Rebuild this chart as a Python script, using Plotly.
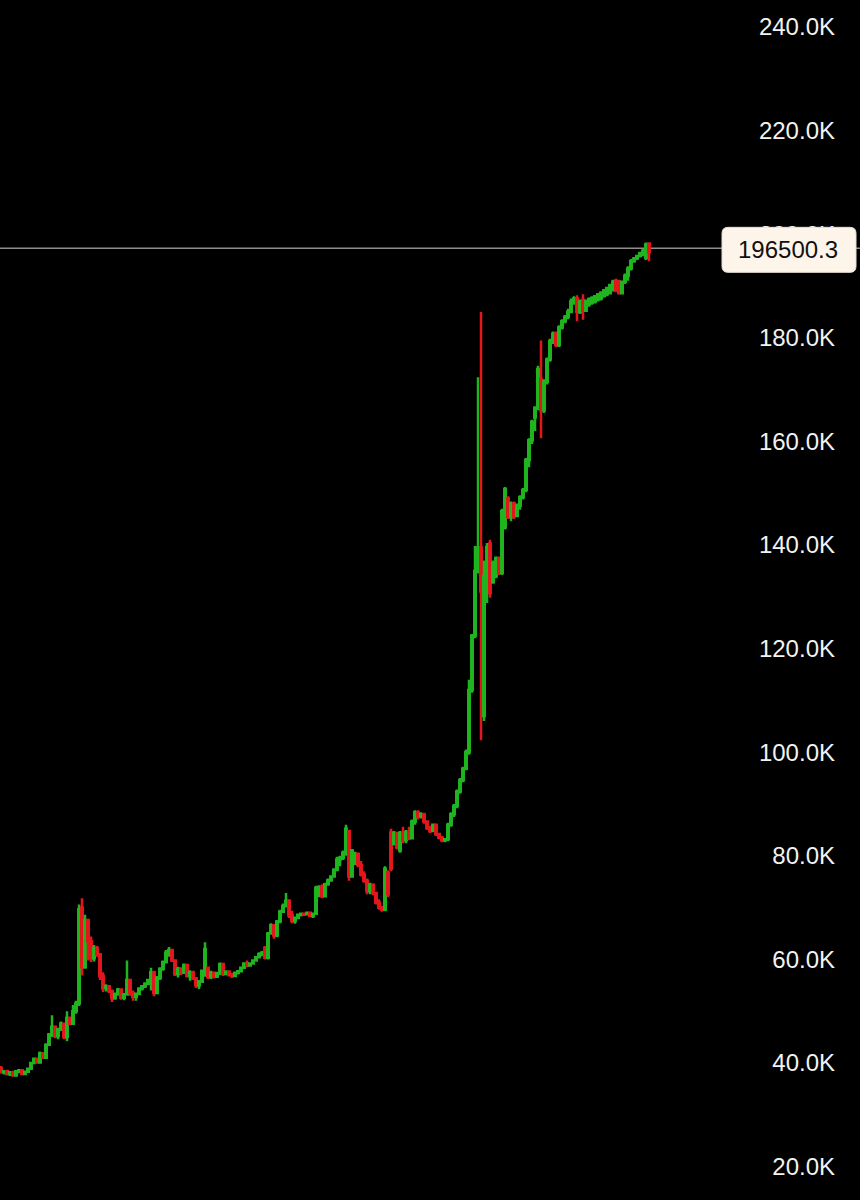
import plotly.graph_objects as go

# ---- candle data (price in thousands) ----
OPEN = [
    39.0, 38.2, 38.4, 37.9, 38.2, 37.6, 38.4, 38.6, 37.9, 38.3,
    38.9, 40.0, 40.8, 40.1, 41.9, 41.0, 43.5, 45.5, 47.0, 45.2,
    46.5, 47.6, 45.0, 48.7, 47.6, 50.0, 51.5, 70.0, 58.5, 67.6,
    63.5, 60.2, 62.2, 61.0, 56.8, 54.5, 54.8, 53.9, 52.5, 53.3,
    54.2, 52.6, 53.2, 56.0, 53.5, 52.8, 53.3, 54.4, 54.8, 55.3,
    55.3, 57.5, 53.5, 56.4, 58.2, 59.5, 60.8, 61.8, 59.8, 57.2,
    58.2, 57.4, 58.9, 56.8, 57.5, 56.3, 55.0, 55.7, 56.9, 58.4,
    56.6, 57.4, 56.7, 57.3, 59.1, 57.2, 57.6, 57.0, 56.8, 57.4,
    57.7, 58.4, 59.2, 58.8, 59.2, 59.8, 60.4, 61.0, 62.2, 60.3,
    65.0, 66.6, 64.6, 67.3, 69.2, 70.3, 71.3, 68.5, 67.4, 68.0,
    68.6, 68.8, 68.7, 69.0, 68.4, 68.8, 72.4, 74.0, 72.2, 74.5,
    75.3, 76.0, 77.3, 79.3, 79.6, 80.6, 84.8, 76.0, 78.5, 80.4,
    78.2, 76.4, 75.2, 73.2, 74.4, 72.8, 71.0, 70.0, 69.6, 76.8,
    84.5, 82.3, 84.4, 81.0, 84.4, 83.0, 84.6, 83.4, 86.6, 88.4,
    87.6, 88.0, 86.6, 85.4, 84.8, 86.0, 84.2, 83.5, 83.0, 83.2,
    86.0, 88.0, 89.6, 92.4, 94.6, 96.8, 100.0, 112.0, 122.5, 135.0,
    139.5, 107.0, 134.0, 140.3, 132.8, 134.0, 137.5, 134.6, 143.4, 149.0,
    145.4, 148.0, 145.6, 147.6, 149.2, 150.6, 156.4, 160.2, 164.6, 166.5,
    172.0, 166.0, 171.5, 175.8, 179.4, 180.8, 178.6, 182.0, 183.2, 184.0,
    185.0, 187.0, 187.6, 185.0, 187.3, 185.2, 186.5, 186.8, 187.0, 187.4,
    187.6, 188.0, 188.4, 188.6, 189.2, 191.0, 190.8, 188.6, 190.8, 192.0,
    193.4, 194.8, 195.3, 195.8, 196.0, 195.4, 198.2,
]
HIGH = [
    39.4, 38.6, 38.7, 38.4, 38.5, 38.6, 38.8, 38.8, 38.5, 39.0,
    40.2, 41.0, 41.0, 42.2, 42.0, 43.8, 45.8, 49.2, 47.2, 46.8,
    48.0, 47.8, 50.0, 49.0, 51.2, 52.0, 70.6, 71.8, 68.6, 67.8,
    64.4, 62.8, 62.6, 61.2, 57.5, 55.2, 55.0, 54.2, 53.6, 54.5,
    54.4, 53.5, 59.8, 56.2, 54.0, 53.6, 54.6, 55.0, 55.6, 56.2,
    58.4, 57.8, 56.8, 58.5, 59.8, 61.8, 62.4, 62.0, 60.0, 58.6,
    58.5, 59.2, 59.0, 57.9, 57.8, 56.6, 56.0, 58.0, 63.3, 58.6,
    57.8, 57.6, 57.6, 59.4, 59.2, 57.9, 57.9, 57.4, 57.6, 57.9,
    58.6, 59.4, 59.8, 59.4, 60.0, 60.6, 61.4, 61.6, 62.6, 65.3,
    67.0, 66.8, 67.6, 69.6, 70.8, 72.8, 71.6, 69.4, 68.3, 68.8,
    69.0, 69.0, 69.2, 69.2, 69.0, 74.2, 74.3, 74.5, 74.8, 75.6,
    76.2, 77.6, 79.8, 80.0, 81.0, 86.0, 85.0, 81.3, 80.8, 80.6,
    79.0, 77.0, 75.6, 74.8, 74.6, 73.0, 71.6, 70.3, 78.0, 77.2,
    85.2, 84.8, 84.6, 84.8, 85.6, 85.0, 85.6, 87.0, 88.8, 88.8,
    88.4, 88.3, 86.8, 85.8, 86.2, 86.2, 84.4, 83.8, 83.4, 86.4,
    88.4, 90.0, 92.8, 95.0, 97.2, 100.5, 114.0, 122.8, 139.8, 172.4,
    185.0, 137.0, 140.4, 141.0, 137.0, 137.8, 137.8, 147.0, 151.2, 149.4,
    148.4, 148.4, 148.0, 149.6, 151.0, 156.8, 160.6, 164.2, 166.8, 174.6,
    179.5, 172.0, 176.2, 179.8, 181.2, 181.2, 182.4, 183.6, 184.4, 185.6,
    187.6, 188.0, 188.2, 187.4, 188.4, 187.4, 187.8, 188.0, 188.2, 188.6,
    189.0, 189.4, 189.8, 190.4, 191.2, 191.4, 191.2, 191.0, 192.4, 193.8,
    195.2, 195.6, 196.0, 196.6, 197.2, 198.4, 198.4,
]
LOW = [
    38.0, 37.8, 37.6, 37.5, 37.4, 37.5, 38.0, 37.7, 37.8, 38.2,
    38.8, 39.8, 39.9, 40.0, 40.8, 40.9, 43.3, 45.0, 44.8, 44.6,
    46.2, 44.6, 44.2, 47.3, 47.4, 49.5, 51.0, 56.9, 58.2, 59.8,
    59.5, 59.6, 60.5, 56.0, 53.7, 53.8, 53.5, 51.8, 52.2, 53.0,
    52.2, 52.1, 53.0, 53.0, 52.0, 52.0, 53.1, 54.0, 54.5, 55.0,
    54.0, 52.9, 53.3, 56.0, 57.8, 59.2, 60.5, 59.5, 56.8, 56.5,
    57.0, 57.2, 56.5, 55.9, 56.0, 54.5, 54.3, 55.5, 56.8, 56.2,
    56.2, 56.3, 56.4, 57.0, 56.8, 57.0, 56.7, 56.4, 56.6, 57.1,
    57.5, 58.2, 58.5, 58.6, 59.0, 59.6, 60.2, 60.6, 60.0, 60.0,
    64.8, 64.0, 64.3, 67.0, 69.0, 70.0, 68.0, 67.0, 66.9, 67.8,
    68.3, 68.4, 68.5, 68.2, 68.0, 68.6, 72.0, 71.8, 72.0, 74.2,
    75.0, 75.8, 77.0, 78.0, 79.2, 80.0, 75.2, 75.8, 78.2, 77.8,
    76.0, 74.8, 72.6, 72.6, 72.4, 70.6, 69.6, 69.2, 69.3, 72.0,
    77.0, 82.0, 81.2, 80.6, 82.4, 82.4, 83.0, 83.2, 86.0, 87.0,
    87.2, 86.2, 85.0, 84.4, 84.6, 83.8, 83.2, 82.6, 82.6, 82.8,
    85.6, 87.5, 89.2, 92.0, 94.2, 96.5, 99.5, 111.5, 122.0, 134.5,
    102.3, 106.0, 128.8, 129.8, 132.5, 133.6, 134.2, 134.2, 143.0, 145.0,
    144.6, 145.0, 145.4, 146.8, 148.8, 150.2, 155.0, 159.5, 162.0, 166.0,
    160.6, 165.5, 171.0, 175.4, 178.8, 178.2, 178.2, 181.6, 182.8, 183.6,
    184.8, 186.4, 183.2, 184.6, 183.5, 185.0, 186.0, 186.4, 186.6, 187.0,
    187.2, 187.8, 188.0, 188.4, 189.0, 188.8, 188.4, 188.4, 190.4, 191.0,
    193.0, 194.5, 195.0, 195.5, 195.8, 195.0, 194.8,
]
CLOSE = [
    38.2, 38.4, 37.9, 38.2, 37.6, 38.4, 38.6, 37.9, 38.3, 38.9,
    40.0, 40.8, 40.1, 41.9, 41.0, 43.5, 45.5, 47.0, 45.2, 46.5,
    47.6, 45.0, 48.7, 47.6, 50.0, 51.5, 69.7, 58.5, 67.6, 63.5,
    60.2, 62.2, 61.0, 56.8, 54.5, 54.8, 53.9, 52.5, 53.3, 54.2,
    52.6, 53.2, 56.0, 53.5, 52.8, 53.3, 54.4, 54.8, 55.3, 56.0,
    57.5, 53.5, 56.4, 58.2, 59.5, 61.3, 61.8, 59.8, 57.2, 58.2,
    57.4, 58.9, 56.8, 57.5, 56.3, 55.0, 55.7, 57.8, 62.0, 56.6,
    57.4, 56.7, 57.3, 59.1, 57.2, 57.6, 57.0, 56.8, 57.4, 57.7,
    58.4, 59.2, 58.8, 59.2, 59.8, 60.4, 61.0, 61.3, 60.3, 65.0,
    66.6, 64.6, 67.3, 69.2, 70.3, 71.3, 68.5, 67.4, 68.0, 68.6,
    68.8, 68.7, 69.0, 68.4, 68.8, 73.8, 74.0, 72.2, 74.5, 75.3,
    76.0, 77.3, 79.3, 79.6, 80.6, 85.2, 76.0, 81.0, 80.4, 78.2,
    76.4, 75.2, 73.2, 74.4, 72.8, 71.0, 70.0, 69.6, 77.5, 72.6,
    77.5, 84.4, 81.6, 84.4, 83.0, 84.6, 83.4, 86.6, 88.4, 87.6,
    88.0, 86.6, 85.4, 84.8, 86.0, 84.2, 83.5, 83.0, 83.2, 86.0,
    88.0, 89.6, 92.4, 94.6, 96.8, 100.0, 112.0, 122.5, 135.0, 139.5,
    131.0, 134.0, 139.6, 130.7, 136.5, 137.5, 134.6, 146.5, 150.8, 145.4,
    148.0, 145.6, 147.6, 149.2, 150.6, 156.4, 160.2, 163.8, 166.5, 174.0,
    166.0, 171.5, 175.8, 179.4, 180.8, 178.6, 182.0, 183.2, 184.0, 185.0,
    187.0, 187.6, 185.0, 187.0, 185.2, 187.0, 187.5, 187.7, 188.0, 188.4,
    188.7, 189.2, 189.6, 190.2, 190.8, 189.2, 188.6, 190.8, 192.0, 193.4,
    194.8, 195.3, 195.8, 196.3, 196.8, 198.0, 196.5003,
]
LAST_PRICE = 196500.3
TICK_VALUES_K = [20, 40, 60, 80, 100, 120, 140, 160, 180, 200, 220, 240]
TICK_LABELS = ["20.0K", "40.0K", "60.0K", "80.0K", "100.0K", "120.0K",
               "140.0K", "160.0K", "180.0K", "200.0K", "220.0K", "240.0K"]

UNIT = 1000
GREEN = "#1fb51f"
RED = "#e3161b"

n = len(CLOSE)
xs = list(range(n))

fig = go.Figure(go.Candlestick(
    x=xs,
    open=[v * UNIT for v in OPEN],
    high=[v * UNIT for v in HIGH],
    low=[v * UNIT for v in LOW],
    close=[v * UNIT for v in CLOSE],
    increasing=dict(line=dict(color=GREEN, width=2.5), fillcolor=GREEN),
    decreasing=dict(line=dict(color=RED, width=2.5), fillcolor=RED),
    whiskerwidth=0,
    hoverinfo="skip",
))

# last price line (anchored at the last price, nudged a few pixels as in the reference)
LINE_NUDGE = 4
fig.add_shape(type="line", xref="paper", x0=0, x1=1,
              yref="y", ysizemode="pixel", yanchor=LAST_PRICE,
              y0=LINE_NUDGE, y1=LINE_NUDGE,
              line=dict(color="#938d8a", width=1.5), layer="below")

# rounded label box
x0, x1, y0, y1, r = -138, -4, -24 + LINE_NUDGE, 21 + LINE_NUDGE, 6
path = (f"M {x0+r},{y0} L {x1-r},{y0} Q {x1},{y0} {x1},{y0+r} "
        f"L {x1},{y1-r} Q {x1},{y1} {x1-r},{y1} L {x0+r},{y1} "
        f"Q {x0},{y1} {x0},{y1-r} L {x0},{y0+r} Q {x0},{y0} {x0+r},{y0} Z")
fig.add_shape(type="path", path=path, xref="paper", xsizemode="pixel", xanchor=1,
              yref="y", ysizemode="pixel", yanchor=LAST_PRICE,
              fillcolor="#fdf5ea", line=dict(color="#e6ddd2", width=1), layer="above")
fig.add_annotation(x=1, xref="paper", xanchor="center", xshift=-72,
                   y=LAST_PRICE, yref="y", yshift=LINE_NUDGE - 1.5, showarrow=False,
                   text=f"{LAST_PRICE:.1f}",
                   font=dict(family="Liberation Sans, Arial, sans-serif", size=24, color="#111111"))

px_per_k = 5.18
top_k = 240 + 27 / px_per_k
bot_k = top_k - 1200 / px_per_k

fig.update_layout(
    width=860, height=1200,
    margin=dict(l=0, r=0, t=0, b=0),
    paper_bgcolor="#000000", plot_bgcolor="#000000",
    showlegend=False,
    xaxis=dict(range=[-1 / 3, -1 / 3 + 860 / 3], visible=False,
               rangeslider=dict(visible=False), showgrid=False, zeroline=False),
    yaxis=dict(range=[bot_k * UNIT, top_k * UNIT], side="right",
               tickvals=[v * UNIT for v in TICK_VALUES_K], ticktext=TICK_LABELS,
               ticklabelposition="inside", ticks="", ticklabelstandoff=22,
               showgrid=False, zeroline=False, showline=False,
               tickfont=dict(family="Liberation Sans, Arial, sans-serif", size=24, color="#f2f2f2")),
)

fig.write_html(
    "out.html",
    config={"displayModeBar": False},
    post_script="document.body.style.margin='0';document.body.style.background='#000';",
)
